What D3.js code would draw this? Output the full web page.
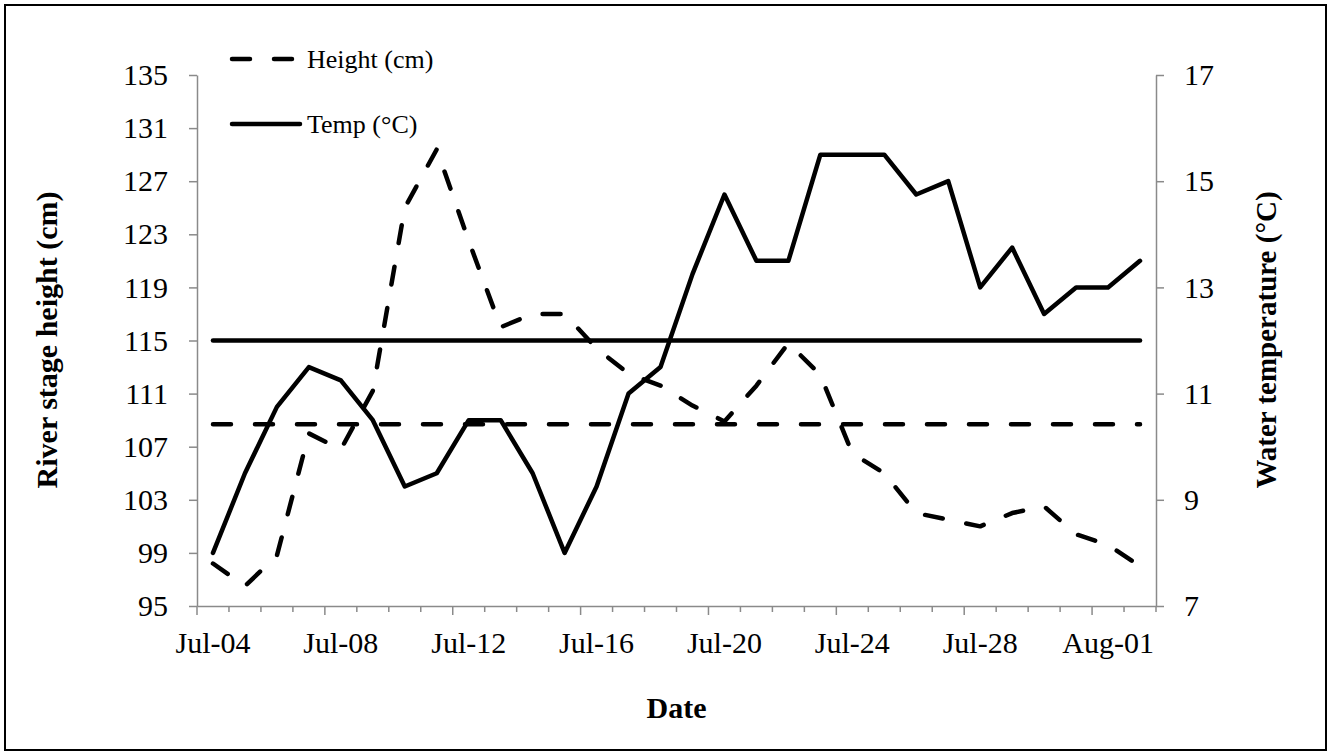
<!DOCTYPE html>
<html><head><meta charset="utf-8">
<script src="https://cdn.jsdelivr.net/npm/d3@7"></script>
<style>
body{margin:0;background:#fff}
svg{display:block}
</style>
</head><body>
<svg id="chart" width="1331" height="755"></svg>
<script>
// ---- data ----
const dates = ["Jul-04","Jul-05","Jul-06","Jul-07","Jul-08","Jul-09","Jul-10","Jul-11","Jul-12","Jul-13",
  "Jul-14","Jul-15","Jul-16","Jul-17","Jul-18","Jul-19","Jul-20","Jul-21","Jul-22","Jul-23",
  "Jul-24","Jul-25","Jul-26","Jul-27","Jul-28","Jul-29","Jul-30","Jul-31","Aug-01","Aug-02"];
const heightCm = [98.2,96.5,98.8,108.0,106.8,111.2,125.0,129.4,122.5,116.0,
  117.0,117.0,114.4,112.5,111.6,110.1,108.9,111.6,114.8,112.4,
  106.5,105.0,102.0,101.5,101.0,102.0,102.5,100.4,99.6,98.0];
const tempC = [8.0,9.5,10.75,11.5,11.25,10.5,9.25,9.5,10.5,10.5,
  9.5,8.0,9.25,11.0,11.5,13.25,14.75,13.5,13.5,15.5,
  15.5,15.5,14.75,15.0,13.0,13.75,12.5,13.0,13.0,13.5];
const meanHeight = 108.7;
const meanTemp = 12.0;
const leftTicks = [95,99,103,107,111,115,119,123,127,131,135];
const rightTicks = [7,9,11,13,15,17];
const dateTickLabels = ["Jul-04","Jul-08","Jul-12","Jul-16","Jul-20","Jul-24","Jul-28","Aug-01"];
const seriesNames = ["Height (cm)","Temp (°C)"];
const axisTitles = {left:"River stage height (cm)", right:"Water temperature (°C)", bottom:"Date"};

// ---- layout ----
const W = 1331, H = 755;
const plot = {left:197, right:1156, top:75, bottom:606};
const axisColor = "#8a8a8a";
const dash = "18,24";
const FONT = '"Liberation Serif"';

const svg = d3.select("#chart");

svg.append("rect").attr("x",5).attr("y",5).attr("width",W-10).attr("height",H-10)
  .attr("fill","none").attr("stroke","#000").attr("stroke-width",2);

const x = d3.scaleBand().domain(dates).range([plot.left, plot.right]).paddingInner(0).paddingOuter(0);
const bw = x.bandwidth();
const cx = d => x(d) + bw/2;
const yL = d3.scaleLinear().domain([95,135]).range([plot.bottom, plot.top]);
const yR = d3.scaleLinear().domain([7,17]).range([plot.bottom, plot.top]);

function styleAxis(g){
  g.attr("font-family","Liberation Serif").attr("font-size",30);
  g.select(".domain").attr("stroke",axisColor).attr("stroke-width",1.5);
  g.selectAll(".tick line").attr("stroke",axisColor).attr("stroke-width",1.5);
  g.selectAll(".tick text").style("font-size","30px").style("font-family",FONT).attr("fill","#000");
}

// left axis
const gL = svg.append("g").attr("transform",`translate(${plot.left},0)`)
  .call(d3.axisLeft(yL).tickValues(leftTicks).tickSize(8).tickPadding(21).tickSizeOuter(0));
styleAxis(gL);
// right axis
const gR = svg.append("g").attr("transform",`translate(${plot.right},0)`)
  .call(d3.axisRight(yR).tickValues(rightTicks).tickSize(8).tickPadding(20).tickSizeOuter(0));
styleAxis(gR);
// bottom axis (labels)
const gB = svg.append("g").attr("transform",`translate(0,${plot.bottom})`)
  .call(d3.axisBottom(x).tickValues(dateTickLabels).tickSize(0).tickPadding(26).tickSizeOuter(0));
styleAxis(gB);
// bottom tick marks at day boundaries
const edges = dates.map((d,i)=>({pos:x(d), major:i%4===0})).concat([{pos:plot.right, major:false}]);
svg.append("g").selectAll("line").data(edges).join("line")
  .attr("x1",d=>d.pos).attr("x2",d=>d.pos)
  .attr("y1",plot.bottom).attr("y2",d=>plot.bottom + (d.major?9:6))
  .attr("stroke",axisColor).attr("stroke-width",1.5);

// mean lines
const firstD = dates[0], lastD = dates[dates.length-1];
svg.append("line").attr("x1",cx(firstD)).attr("x2",cx(lastD))
  .attr("y1",yR(meanTemp)).attr("y2",yR(meanTemp))
  .attr("stroke","#000").attr("stroke-width",4.5).attr("stroke-linecap","round");
svg.append("line").attr("x1",cx(firstD)).attr("x2",cx(lastD))
  .attr("y1",yL(meanHeight)).attr("y2",yL(meanHeight))
  .attr("stroke","#000").attr("stroke-width",4.5).attr("stroke-linecap","round")
  .attr("stroke-dasharray",dash);

// data lines
const lineH = d3.line().x((v,i)=>cx(dates[i])).y(v=>yL(v));
const lineT = d3.line().x((v,i)=>cx(dates[i])).y(v=>yR(v));
svg.append("path").attr("d",lineH(heightCm)).attr("fill","none").attr("stroke","#000")
  .attr("stroke-width",4.5).attr("stroke-linecap","round").attr("stroke-linejoin","round")
  .attr("stroke-dasharray",dash);
svg.append("path").attr("d",lineT(tempC)).attr("fill","none").attr("stroke","#000")
  .attr("stroke-width",4.5).attr("stroke-linecap","round").attr("stroke-linejoin","round");

// legend
const leg = [{name:seriesNames[0], y:59, dash:dash},{name:seriesNames[1], y:124, dash:null}];
leg.forEach(l=>{
  const ln = svg.append("line").attr("x1",232).attr("x2",300).attr("y1",l.y).attr("y2",l.y)
    .attr("stroke","#000").attr("stroke-width",4.5).attr("stroke-linecap","round");
  if(l.dash) ln.attr("stroke-dasharray",l.dash);
  svg.append("text").attr("x",307).attr("y",l.y+9).style("font-size","26px").style("font-family",FONT).text(l.name);
});

// axis titles
svg.append("text").attr("transform",`translate(57,340) rotate(-90)`).attr("text-anchor","middle")
  .style("font-size","30px").style("font-family",FONT).style("font-weight","bold").text(axisTitles.left);
svg.append("text").attr("transform",`translate(1276,340) rotate(-90)`).attr("text-anchor","middle")
  .style("font-size","29px").style("font-family",FONT).style("font-weight","bold").text(axisTitles.right);
svg.append("text").attr("x",(plot.left+plot.right)/2).attr("y",718).attr("text-anchor","middle")
  .style("font-size","30px").style("font-family",FONT).style("font-weight","bold").text(axisTitles.bottom);
</script>
</body></html>
